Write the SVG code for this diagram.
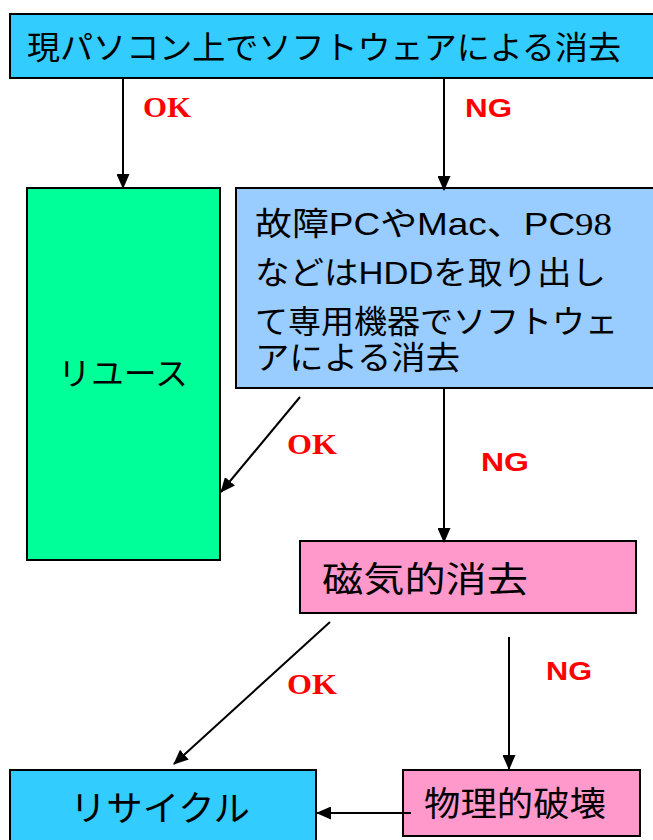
<svg xmlns="http://www.w3.org/2000/svg" width="653" height="840" viewBox="0 0 653 840">
<style>
.box{stroke:#000;stroke-width:2}
.jp{font-family:"Liberation Sans","Noto Sans CJK JP",sans-serif;fill:#000}
.ok{font-family:"Liberation Serif",serif;font-weight:bold;font-size:29px;fill:#FF0000}
.ng{font-family:"Liberation Sans",sans-serif;font-weight:bold;font-size:25px;fill:#FF0000}
.ln{stroke:#000;stroke-width:2;fill:none;marker-end:url(#ah)}
</style>
<defs>
<marker id="ah" viewBox="0 0 15 13" refX="14" refY="6.5" markerWidth="15" markerHeight="13" markerUnits="userSpaceOnUse" orient="auto">
<path d="M0,0 L15,6.5 L0,13 Z" fill="#000"/>
</marker>
</defs>
<g id="n-top">
<rect class="box" x="10" y="14" width="660" height="64" fill="#33CCFF"/>
<text class="jp" x="27" y="59" font-size="32" textLength="594" lengthAdjust="spacingAndGlyphs">現パソコン上でソフトウェアによる消去</text>
</g>
<g id="n-reuse">
<rect class="box" x="27" y="188" width="193" height="372" fill="#00FF99"/>
<text class="jp" x="58" y="385" font-size="32" textLength="130" lengthAdjust="spacingAndGlyphs">リユース</text>
</g>
<g id="n-hdd">
<rect class="box" x="236" y="188" width="430" height="200" fill="#99CCFF"/>
<text class="jp" font-size="32" x="255" y="235" textLength="357" lengthAdjust="spacingAndGlyphs">故障PCやMac、PC<tspan font-family="Liberation Serif, serif">98</tspan></text>
<text class="jp" font-size="32" x="255" y="284" textLength="351" lengthAdjust="spacingAndGlyphs">などはHDDを取り出し</text>
<text class="jp" font-size="32" x="255" y="333" textLength="363" lengthAdjust="spacingAndGlyphs">て専用機器でソフトウェ</text>
<text class="jp" font-size="32" x="255" y="369" textLength="205" lengthAdjust="spacingAndGlyphs">アによる消去</text>
</g>
<g id="n-mag">
<rect class="box" x="300" y="541" width="336" height="72" fill="#FF99CC"/>
<text class="jp" x="322" y="592" font-size="35" textLength="206" lengthAdjust="spacingAndGlyphs">磁気的消去</text>
</g>
<g id="n-recycle">
<rect class="box" x="10" y="770" width="306" height="80" fill="#33CCFF"/>
<text class="jp" x="70" y="821" font-size="35" textLength="180" lengthAdjust="spacingAndGlyphs">リサイクル</text>
</g>
<g id="n-phys">
<rect class="box" x="403" y="770" width="237" height="66" fill="#FF99CC"/>
<text class="jp" x="424" y="816" font-size="34" textLength="182" lengthAdjust="spacingAndGlyphs">物理的破壊</text>
</g>
<g id="connectors">
<line class="ln" x1="123" y1="78" x2="123" y2="188"/>
<line class="ln" x1="444" y1="78" x2="444" y2="190"/>
<line class="ln" x1="300" y1="397" x2="221" y2="492"/>
<line class="ln" x1="444" y1="388" x2="444" y2="542"/>
<line class="ln" x1="330" y1="622" x2="174" y2="764"/>
<line class="ln" x1="509" y1="637" x2="509" y2="769"/>
<line class="ln" x1="411" y1="813" x2="317" y2="813"/>
<text class="ok" x="143" y="117" textLength="48" lengthAdjust="spacingAndGlyphs">OK</text>
<text class="ng" x="465" y="117" textLength="47" lengthAdjust="spacingAndGlyphs">NG</text>
<text class="ok" x="287" y="454" textLength="50" lengthAdjust="spacingAndGlyphs">OK</text>
<text class="ng" x="481" y="471" textLength="48" lengthAdjust="spacingAndGlyphs">NG</text>
<text class="ok" x="287" y="694" textLength="50" lengthAdjust="spacingAndGlyphs">OK</text>
<text class="ng" x="546" y="680" textLength="46" lengthAdjust="spacingAndGlyphs">NG</text>
</g>
</svg>
